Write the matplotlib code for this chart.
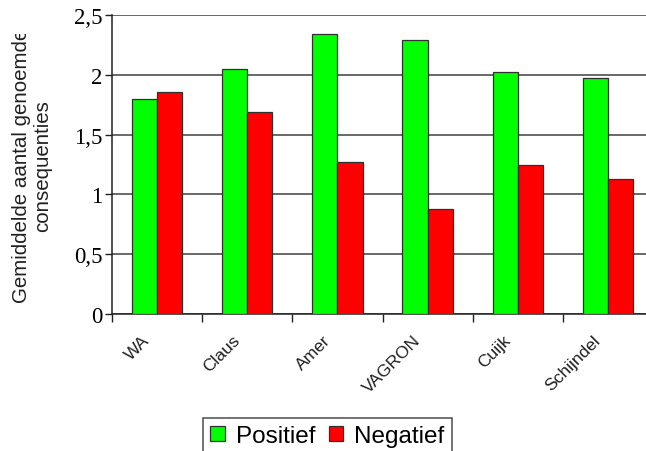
import matplotlib

matplotlib.use("Agg")
import matplotlib.pyplot as plt
import numpy as np
from matplotlib.transforms import Bbox, TransformedBbox, ScaledTranslation

# data
categories = ["WA", "Claus", "Amer", "VAGRON", "Cuijk", "Schijndel"]
positief = [1.80, 2.05, 2.34, 2.29, 2.02, 1.97]
negatief = [1.86, 1.69, 1.27, 0.88, 1.25, 1.13]
yticks = [0, 0.5, 1, 1.5, 2, 2.5]
ytick_labels = ["0", "0,5", "1", "1,5", "2", "2,5"]

W, H = 646, 452
fig = plt.figure(figsize=(W / 100, H / 100), dpi=100)
# plot area runs past the right edge, as in the cropped original
ax = fig.add_axes([112 / W, (H - 315) / H, (653 - 112) / W, 299 / H])

x = np.arange(len(categories))
bw = 0.28
ax.bar(x - bw / 2, positief, bw, color="#00ff00", edgecolor="#303030",
       linewidth=0.9, label="Positief", zorder=3)
ax.bar(x + bw / 2, negatief, bw, color="#ff0000", edgecolor="#303030",
       linewidth=0.9, label="Negatief", zorder=3)

ax.set_xlim(-0.5, len(categories) - 0.5)
ax.set_ylim(0, 2.5)
ax.set_yticks(yticks)
ax.set_yticklabels(ytick_labels, fontfamily="Liberation Serif", fontsize=16.5)
ax.tick_params(axis="y", length=5, width=1, pad=2, color="#202020")

ax.set_xticks(x)
ax.set_xticklabels(categories, rotation=45, ha="right", va="top",
                   rotation_mode="anchor",
                   fontfamily=["Liberation Sans Narrow", "Liberation Sans"],
                   fontsize=12.5, color="#202020")
ax.tick_params(axis="x", which="major", length=0, pad=13)
# labels sit a bit left of the group centres in the original
shift = ScaledTranslation(-15 / 100, 0, fig.dpi_scale_trans)
for t in ax.get_xticklabels():
    t.set_transform(t.get_transform() + shift)
ax.set_xticks(np.arange(-0.5, len(categories)), minor=True)
ax.tick_params(axis="x", which="minor", length=6, width=1, color="#202020")

ax.grid(True, axis="y", color="#404040", linewidth=1.1, zorder=0)
ax.set_axisbelow(True)
for side in ("top", "right"):
    ax.spines[side].set_visible(False)
for side in ("left", "bottom"):
    ax.spines[side].set_color("#202020")
    ax.spines[side].set_linewidth(1.1)

# y axis label, clipped at the top like the original text box
lab = fig.text(32 / W, 1 - 166 / H, "Gemiddelde aantal genoemde\nconsequenties",
               rotation=90, ha="center", va="center", multialignment="center",
               fontfamily="Liberation Sans", fontsize=14.8, color="#202020",
               linespacing=1.15)
lab.set_clip_box(TransformedBbox(Bbox([[0, 0], [1, 1 - 35 / H]]), fig.transFigure))
lab.set_clip_on(True)

leg = fig.legend(loc="upper left", bbox_to_anchor=(203 / W, 1 - 419 / H),
                 ncol=2, fancybox=False, frameon=True, edgecolor="#202020",
                 prop={"family": "Liberation Sans", "size": 17.5},
                 handlelength=0.6, handleheight=0.6, handletextpad=0.45,
                 columnspacing=0.55, borderpad=0.3, borderaxespad=0)
leg.get_frame().set_linewidth(1.1)

plt.savefig("out.png", dpi=100)
